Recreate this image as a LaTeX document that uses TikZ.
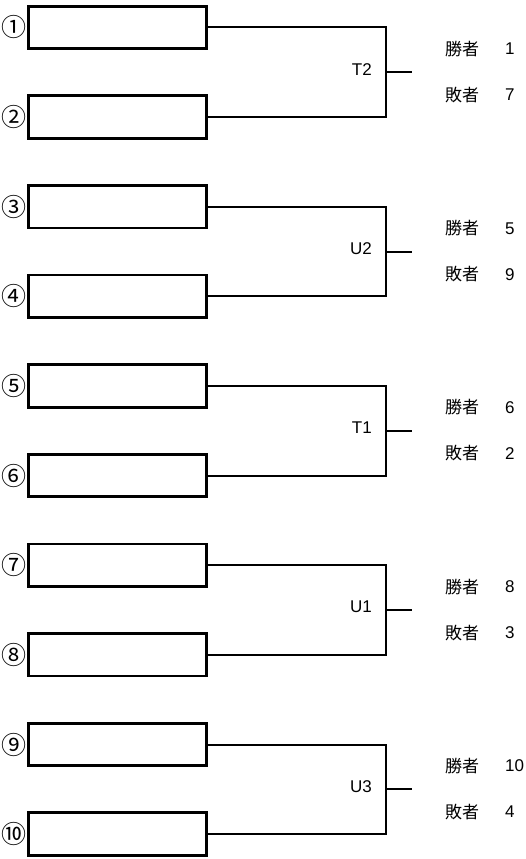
\documentclass[tikz,border=0pt]{standalone}
\usepackage{fontspec}
\setmainfont{Liberation Sans}
\newfontfamily\jpfont{Noto Sans CJK JP}
\usetikzlibrary{positioning}

\begin{document}
\begin{tikzpicture}[x=1pt, y=-1pt, node distance=10pt, font=\fontsize{17}{20}\selectfont]
    \tikzstyle{slot} = [draw, line width=2.6pt, minimum width=178.5pt, minimum height=42.5pt, inner sep=0pt]
    \tikzstyle{seed} = [inner sep=0pt, font=\jpfont\fontsize{25}{28}\selectfont]
    \tikzstyle{wire} = [line width=2pt]
    \tikzstyle{match} = [inner sep=0pt, yshift=3pt]
    \tikzstyle{res} = [inner sep=0pt, anchor=west, font=\jpfont\fontsize{17}{20}\selectfont]
    \tikzstyle{num} = [inner sep=0pt, anchor=west]

    \useasboundingbox (0,0) rectangle (525,859);

    % T2
    \node[slot] (s1) at (117.5,27.5) {};
    \node[slot] (s2) at (117.5,117) {};
    \node[seed, left=0pt of s1] (n1) {①};
    \node[seed, left=0pt of s2] (n2) {②};
    \coordinate (j1) at (386,72.25);
    \coordinate[right=26pt of j1] (e1);
    \node[match, left=14pt of j1] (m1) {T2};
    \node[res] (w1) at (445,49) {勝者};
    \node[res] (l1) at (445,95) {敗者};
    \node[num] (wv1) at (505,49) {1};
    \node[num] (lv1) at (505,95) {7};

    % U2
    \node[slot] (s3) at (117.5,206.75) {};
    \node[slot] (s4) at (117.5,296.25) {};
    \node[seed, left=0pt of s3] (n3) {③};
    \node[seed, left=0pt of s4] (n4) {④};
    \coordinate (j2) at (386,251.5);
    \coordinate[right=26pt of j2] (e2);
    \node[match, left=14pt of j2] (m2) {U2};
    \node[res] (w2) at (445,228.25) {勝者};
    \node[res] (l2) at (445,274.25) {敗者};
    \node[num] (wv2) at (505,228.25) {5};
    \node[num] (lv2) at (505,274.25) {9};

    % T1
    \node[slot] (s5) at (117.5,386) {};
    \node[slot] (s6) at (117.5,475.5) {};
    \node[seed, left=0pt of s5] (n5) {⑤};
    \node[seed, left=0pt of s6] (n6) {⑥};
    \coordinate (j3) at (386,430.75);
    \coordinate[right=26pt of j3] (e3);
    \node[match, left=14pt of j3] (m3) {T1};
    \node[res] (w3) at (445,407.5) {勝者};
    \node[res] (l3) at (445,453.5) {敗者};
    \node[num] (wv3) at (505,407.5) {6};
    \node[num] (lv3) at (505,453.5) {2};

    % U1
    \node[slot] (s7) at (117.5,565.25) {};
    \node[slot] (s8) at (117.5,654.75) {};
    \node[seed, left=0pt of s7] (n7) {⑦};
    \node[seed, left=0pt of s8] (n8) {⑧};
    \coordinate (j4) at (386,610);
    \coordinate[right=26pt of j4] (e4);
    \node[match, left=14pt of j4] (m4) {U1};
    \node[res] (w4) at (445,586.75) {勝者};
    \node[res] (l4) at (445,632.75) {敗者};
    \node[num] (wv4) at (505,586.75) {8};
    \node[num] (lv4) at (505,632.75) {3};

    % U3
    \node[slot] (s9) at (117.5,744.5) {};
    \node[slot] (s10) at (117.5,834) {};
    \node[seed, left=0pt of s9] (n9) {⑨};
    \node[seed, left=0pt of s10] (n10) {⑩};
    \coordinate (j5) at (386,789.25);
    \coordinate[right=26pt of j5] (e5);
    \node[match, left=14pt of j5] (m5) {U3};
    \node[res] (w5) at (445,766) {勝者};
    \node[res] (l5) at (445,812) {敗者};
    \node[num] (wv5) at (505,766) {10};
    \node[num] (lv5) at (505,812) {4};

    % Brackets
    \draw[wire] (s1.east) -| (j1) |- (s2.east);
    \draw[wire] (j1) -- (e1);
    \draw[wire] (s3.east) -| (j2) |- (s4.east);
    \draw[wire] (j2) -- (e2);
    \draw[wire] (s5.east) -| (j3) |- (s6.east);
    \draw[wire] (j3) -- (e3);
    \draw[wire] (s7.east) -| (j4) |- (s8.east);
    \draw[wire] (j4) -- (e4);
    \draw[wire] (s9.east) -| (j5) |- (s10.east);
    \draw[wire] (j5) -- (e5);
\end{tikzpicture}
\end{document}
